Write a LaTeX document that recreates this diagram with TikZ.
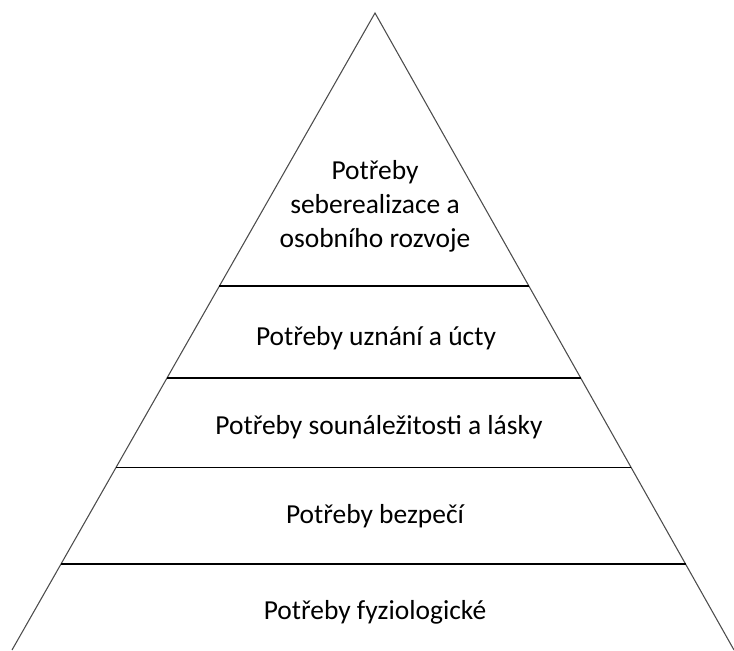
\documentclass[tikz,border=0pt]{standalone}
\usepackage{fontspec}
\setmainfont{Carlito}
\usetikzlibrary{calc}

\tikzset{
  side/.style={draw=black!70, line width=0.8pt},
  tier/.style={draw=black, line width=0.9pt},
  label/.style={font=\fontsize{20.6}{25.5}\selectfont, align=center, inner sep=0pt}
}

\begin{document}
\begin{tikzpicture}[x=0.75pt, y=-0.75pt]
  \useasboundingbox (0,0) rectangle (734,650);

  \coordinate (apex) at (375,13);
  \coordinate (bl) at (12,650);
  \coordinate (br) at (734,650);

  % pyramid sides
  \draw[side] (bl) -- (apex) -- (br);

  % tiers
  \foreach \t in {0.4286, 0.573, 0.714, 0.865}
    \draw[tier] ($(apex)!\t!(bl)$) -- ($(apex)!\t!(br)$);

  \node[label] (self) at (375,206) {Potřeby\\seberealizace a\\osobního rozvoje};
  \node[label] (esteem) at (376,338) {Potřeby uznání a úcty};
  \node[label] (love) at (379,427) {Potřeby sounáležitosti a lásky};
  \node[label] (safety) at (375,516) {Potřeby bezpečí};
  \node[label] (body) at (375,612) {Potřeby fyziologické};
\end{tikzpicture}
\end{document}
